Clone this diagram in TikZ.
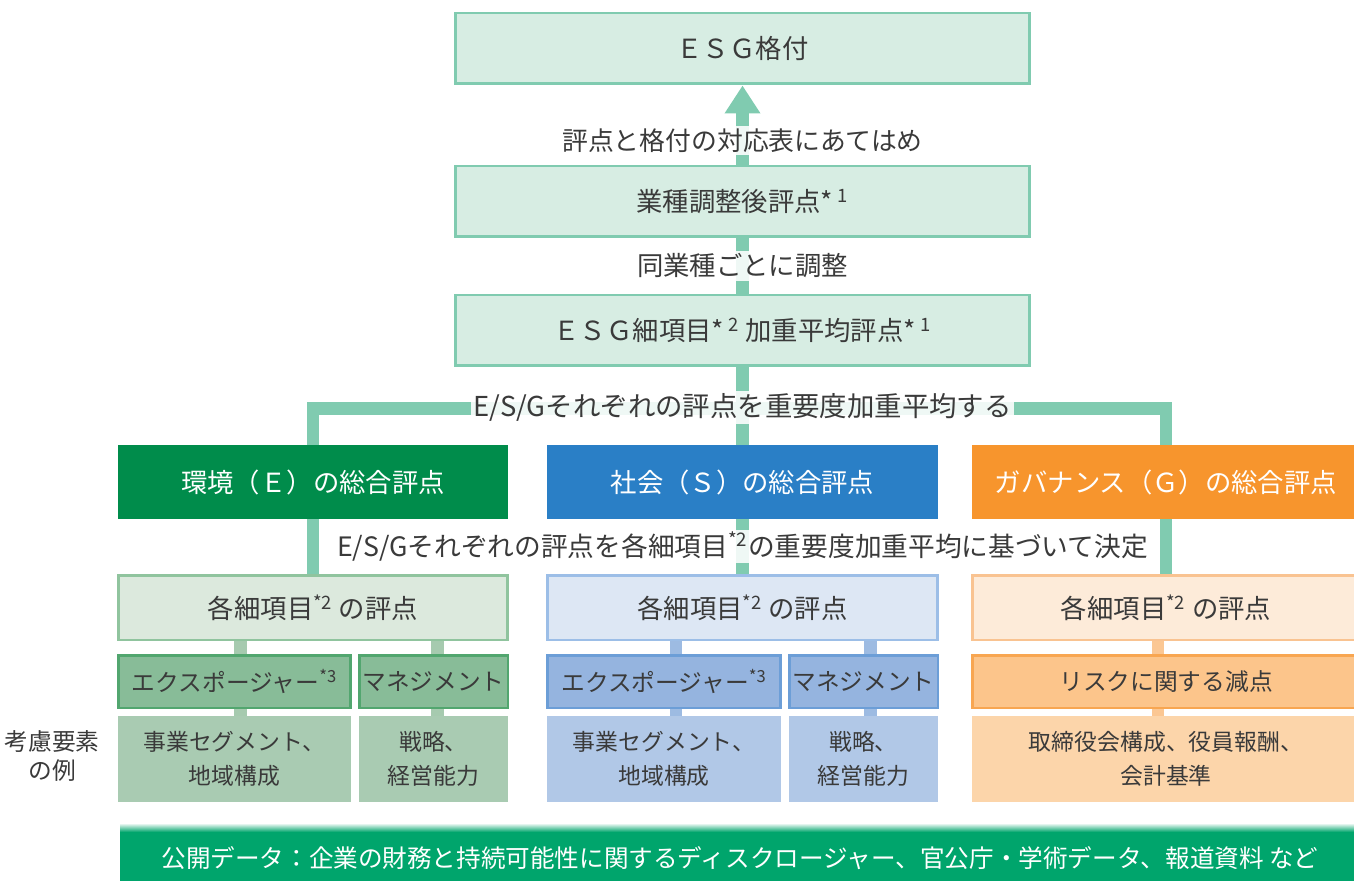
\documentclass[tikz,border=0pt]{standalone}
\usepackage{fontspec}
\setmainfont{Noto Sans CJK JP}
\usetikzlibrary{arrows.meta}

\definecolor{ink}{HTML}{3A3A3A}
\definecolor{mint}{HTML}{80CBB0}
\definecolor{mintPale}{HTML}{D7EDE3}
\definecolor{envGreen}{HTML}{008C4B}
\definecolor{socBlue}{HTML}{2A7FC6}
\definecolor{govOrange}{HTML}{F7952D}
\definecolor{envPale}{HTML}{DCE9DD}
\definecolor{envLine}{HTML}{90C49E}
\definecolor{socPale}{HTML}{DDE7F4}
\definecolor{socLine}{HTML}{9CBEE7}
\definecolor{govPale}{HTML}{FDEBD9}
\definecolor{govLine}{HTML}{F9C391}
\definecolor{envMid}{HTML}{88BC98}
\definecolor{envEdge}{HTML}{52A66F}
\definecolor{socMid}{HTML}{95B4DF}
\definecolor{socEdge}{HTML}{6C9ED7}
\definecolor{govMid}{HTML}{FCC58B}
\definecolor{govEdge}{HTML}{F8A651}
\definecolor{envLight}{HTML}{A9CBB2}
\definecolor{socLight}{HTML}{B1C8E7}
\definecolor{govLight}{HTML}{FCD5AA}
\definecolor{envLink}{HTML}{A6CAAF}
\definecolor{socLink}{HTML}{9DBBE2}
\definecolor{govLink}{HTML}{FBC793}
\definecolor{bannerGreen}{HTML}{00A56C}

\tikzset{
  score/.style={draw=mint, fill=mintPale, line width=1.7pt, text=ink, inner sep=0pt,
    minimum width=11.5cm, minimum height=1.42cm, font=\fontsize{15}{18}\selectfont},
  total/.style={text=white, inner sep=0pt, minimum height=1.48cm,
    font=\fontsize{15}{18}\selectfont},
  items/.style={line width=1.7pt, text=ink, inner sep=0pt, minimum width=7.8cm,
    minimum height=1.3cm, font=\fontsize{15}{18}\selectfont},
  aspect/.style={line width=1.7pt, text=ink, inner sep=0pt, minimum height=1.06cm,
    font=\fontsize{13.5}{16}\selectfont},
  factor/.style={text=ink, inner sep=0pt, minimum height=1.72cm, align=center,
    font=\fontsize{13}{19}\selectfont},
  trunk/.style={draw=mint, line width=7pt},
  link/.style={draw=#1, line width=7pt},
  note/.style={fill=white, fill opacity=0.88, text opacity=1, text=ink, inner sep=1.5pt,
    font=\fontsize{15}{18}\selectfont},
  wideNote/.style={note, font=\fontsize{15.6}{18}\selectfont}
}

\begin{document}
\begin{tikzpicture}[x=0.02cm,y=-0.02cm]
\useasboundingbox (0,0) rectangle (1354,881);
\clip (0,0) rectangle (1354,881);

% rating chain
\node[score] (rating) at (742.5,48.5) {ＥＳＧ格付};
\node[score] (adjusted) at (742.5,201.5) {業種調整後評点*\,\textsuperscript{1}};
\node[score] (weighted) at (742.5,330.5) {ＥＳＧ細項目*\,\textsuperscript{2} 加重平均評点*\,\textsuperscript{1}};

% E / S / G totals
\node[total, fill=envGreen, minimum width=7.8cm] (envTotal) at (313,482) {環境（Ｅ）の総合評点};
\node[total, fill=socBlue, minimum width=7.82cm] (socTotal) at (742.5,482) {社会（Ｓ）の総合評点};
\node[total, fill=govOrange, minimum width=7.76cm] (govTotal) at (1166,482) {ガバナンス（Ｇ）の総合評点};

% detail items
\node[items, draw=envLine, fill=envPale] (envItems) at (313,607.5) {各細項目\textsuperscript{*2} の評点};
\node[items, draw=socLine, fill=socPale, minimum width=7.82cm] (socItems) at (742.5,607.5) {各細項目\textsuperscript{*2} の評点};
\node[items, draw=govLine, fill=govPale, minimum width=7.76cm] (govItems) at (1166,607.5) {各細項目\textsuperscript{*2} の評点};

% exposure / management
\node[aspect, draw=envEdge, fill=envMid, minimum width=4.66cm] (envExp) at (234.5,681.5) {エクスポージャー\textsuperscript{*3}};
\node[aspect, draw=envEdge, fill=envMid, minimum width=2.98cm] (envMgmt) at (433.5,681.5) {マネジメント};
\node[aspect, draw=socEdge, fill=socMid, minimum width=4.68cm] (socExp) at (664,681.5) {エクスポージャー\textsuperscript{*3}};
\node[aspect, draw=socEdge, fill=socMid, minimum width=2.98cm] (socMgmt) at (863.5,681.5) {マネジメント};
\node[aspect, draw=govEdge, fill=govMid, minimum width=7.76cm] (govRisk) at (1166,681.5) {リスクに関する減点};

% example factors
\node[factor, fill=envLight, minimum width=4.66cm] (envFactA) at (234.5,759) {事業セグメント、\\地域構成};
\node[factor, fill=envLight, minimum width=2.98cm] (envFactB) at (433.5,759) {戦略、\\経営能力};
\node[factor, fill=socLight, minimum width=4.68cm] (socFactA) at (664,759) {事業セグメント、\\地域構成};
\node[factor, fill=socLight, minimum width=2.98cm] (socFactB) at (863.5,759) {戦略、\\経営能力};
\node[factor, fill=govLight, minimum width=7.76cm] (govFact) at (1166,759) {取締役会構成、役員報酬、\\会計基準};
\node[text=ink, align=center, inner sep=0pt, font=\fontsize{13.5}{16}\selectfont] (factTitle) at (52,756) {考慮要素\\の例};

% public data banner
\node[fill=bannerGreen, text=white, inner sep=0pt, minimum width=24.8cm, minimum height=1.28cm,
  font=\fontsize{14}{17}\selectfont] (pubData) at (740,858)
  {公開データ：企業の財務と持続可能性に関するディスクロージャー、官公庁・学術データ、報道資料 など};
\shade[top color=white, bottom color=bannerGreen] (120,823) rectangle (1360,832);

% connectors
\draw[trunk, -{Triangle[length=0.56cm, width=0.68cm]}] (adjusted.north) -- node[note, pos=0.3, font=\fontsize{14.7}{18}\selectfont] {評点と格付の対応表にあてはめ} (rating.south);
\draw[trunk] (weighted.north) -- node[note] {同業種ごとに調整} (adjusted.south);
\draw[trunk, line join=miter] (envTotal.north) -- ([yshift=-0.82cm]envTotal.north |- weighted.south)
  -- ([yshift=-0.82cm]govTotal.north |- weighted.south) -- (govTotal.north);
\draw[trunk] (socTotal.north) -- node[wideNote, pos=0.48] {E/S/Gそれぞれの評点を重要度加重平均する} (weighted.south);
\draw[trunk] (envTotal.south) -- (envItems.north);
\draw[trunk] (govTotal.south) -- (govItems.north);
\draw[trunk] (socTotal.south) -- node[note, inner sep=1pt, font=\fontsize{15.2}{18}\selectfont] {E/S/Gそれぞれの評点を各細項目\textsuperscript{*2}の重要度加重平均に基づいて決定} (socItems.north);

\draw[link=envLink] ([xshift=0.12cm]envExp.north) -- ([xshift=0.12cm]envExp.north |- envItems.south);
\draw[link=envLink] ([xshift=0.08cm]envMgmt.north) -- ([xshift=0.08cm]envMgmt.north |- envItems.south);
\draw[link=socLink] ([xshift=0.24cm]socExp.north) -- ([xshift=0.24cm]socExp.north |- socItems.south);
\draw[link=socLink] ([xshift=0.14cm]socMgmt.north) -- ([xshift=0.14cm]socMgmt.north |- socItems.south);
\draw[link=govLink] ([xshift=-0.16cm]govRisk.north) -- ([xshift=-0.16cm]govItems.south);
\draw[link=envLink] ([xshift=0.12cm]envExp.south) -- ([xshift=0.12cm]envFactA.north);
\draw[link=envLink] ([xshift=0.08cm]envMgmt.south) -- ([xshift=0.08cm]envFactB.north);
\draw[link=socLink] ([xshift=0.24cm]socExp.south) -- ([xshift=0.24cm]socFactA.north);
\draw[link=socLink] ([xshift=0.14cm]socMgmt.south) -- ([xshift=0.14cm]socFactB.north);
\draw[link=govLink] ([xshift=-0.16cm]govRisk.south) -- ([xshift=-0.16cm]govFact.north);
\end{tikzpicture}
\end{document}
